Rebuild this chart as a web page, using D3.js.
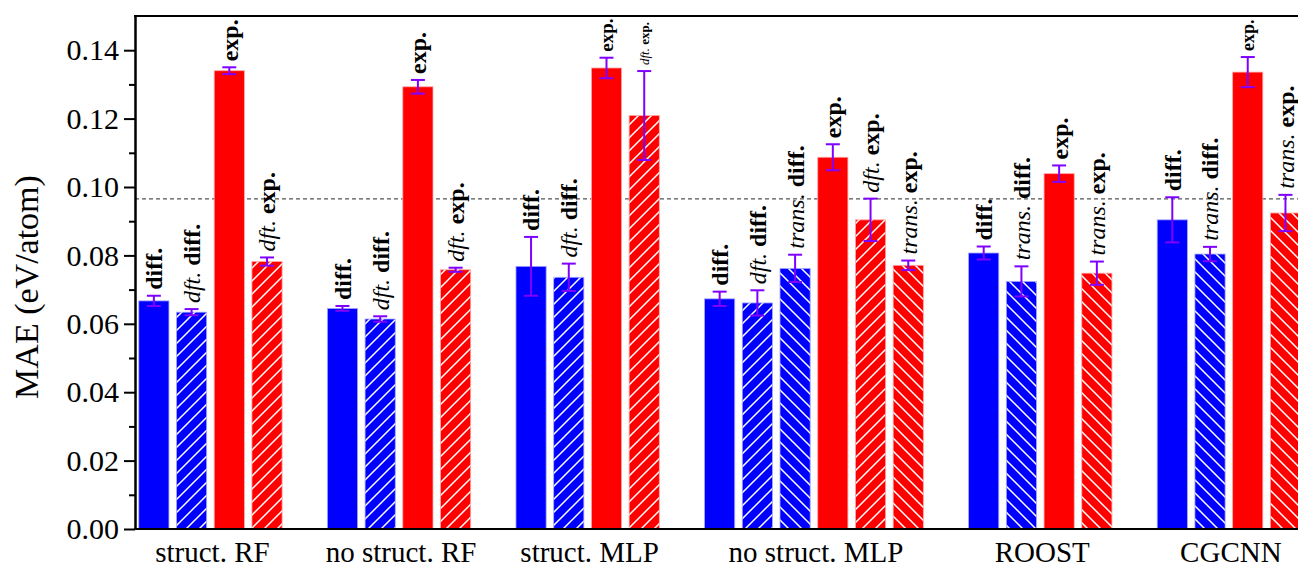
<!DOCTYPE html>
<html lang="en">
<head>
  <meta charset="UTF-8">
  <title>MAE by model</title>
  <script src="https://d3js.org/d3.v7.min.js"></script>
  <style>
    body { margin: 0; background: #fff; }
    svg text { font-family: "Liberation Serif", "Times New Roman", serif; fill: #000; }
    .axis path, .axis line { stroke: #000; stroke-width: 2px; }
  </style>
</head>
<body>
<svg id="chart" width="1298" height="569"></svg>
<script>
  // data
  const models = ["struct. RF", "no struct. RF", "struct. MLP", "no struct. MLP", "ROOST", "CGCNN"];
  const barKinds = [
    ["diff", "dft diff", "exp", "dft exp"],
    ["diff", "dft diff", "exp", "dft exp"],
    ["diff", "dft diff", "exp", "dft exp"],
    ["diff", "dft diff", "trans diff", "exp", "dft exp", "trans exp"],
    ["diff", "trans diff", "exp", "trans exp"],
    ["diff", "trans diff", "exp", "trans exp"]
  ];
  const maeValues = [
    [0.0667, 0.0634, 0.1340, 0.0782],
    [0.0645, 0.0614, 0.1293, 0.0758],
    [0.0768, 0.0736, 0.1348, 0.1209],
    [0.0673, 0.0661, 0.0762, 0.1087, 0.0904, 0.0771],
    [0.0807, 0.0724, 0.1039, 0.0748],
    [0.0904, 0.0804, 0.1336, 0.0924]
  ];
  const maeErrors = [
    [0.0015, 0.0009, 0.0010, 0.0012],
    [0.0007, 0.0008, 0.0020, 0.0006],
    [0.0086, 0.0040, 0.0030, 0.0130],
    [0.0021, 0.0037, 0.0040, 0.0038, 0.0062, 0.0014],
    [0.0019, 0.0044, 0.0024, 0.0034],
    [0.0066, 0.0021, 0.0044, 0.0053]
  ];
  const yTicks = [0, 0.02, 0.04, 0.06, 0.08, 0.10, 0.12, 0.14];
  const yMinorTicks = [0.01, 0.03, 0.05, 0.07, 0.09, 0.11, 0.13];
  const refLine = 0.0965;

  // label text for each bar kind (italic prefix + bold word)
  const kindLabels = {
    "diff": [["", "diff."]],
    "dft diff": [["dft.", "diff."]],
    "trans diff": [["trans.", "diff."]],
    "exp": [["", "exp."]],
    "dft exp": [["dft.", "exp."]],
    "trans exp": [["trans.", "exp."]]
  };
  // some labels were squeezed smaller in the figure
  const smallLabels = { "struct. MLP|exp": 19, "struct. MLP|dft exp": 13, "CGCNN|exp": 18 };

  const svg = d3.select("#chart");
  const margin = { left: 135, top: 16, bottom: 40 };
  const height = +svg.attr("height");

  // flatten bars into slots, one empty slot between groups
  let bars = [];
  let slot = 0;
  models.forEach((m, gi) => {
    barKinds[gi].forEach((k, bi) => {
      bars.push({ model: m, kind: k, value: maeValues[gi][bi], err: maeErrors[gi][bi], slot: slot });
      slot++;
    });
    slot++;
  });
  const nSlots = slot;

  const x = d3.scaleBand()
    .domain(d3.range(nSlots))
    .range([margin.left, margin.left + nSlots * 37.72])
    .paddingInner(0.2)
    .paddingOuter(0.1);

  const y = d3.scaleLinear().domain([0, 0.15]).range([height - margin.bottom, margin.top]);

  // hatch patterns
  const defs = svg.append("defs");
  const hs = 13;
  function makePattern(id, color, dir) {
    const p = defs.append("pattern").attr("id", id)
      .attr("patternUnits", "userSpaceOnUse")
      .attr("width", hs).attr("height", hs);
    p.append("rect").attr("width", hs).attr("height", hs).attr("fill", color);
    const d = dir === "fwd"
      ? `M0,${hs} L${hs},0 M${-hs/2},${hs/2} L${hs/2},${-hs/2} M${hs/2},${1.5*hs} L${1.5*hs},${hs/2}`
      : `M0,0 L${hs},${hs} M${-hs/2},${hs/2} L${hs/2},${1.5*hs} M${hs/2},${-hs/2} L${1.5*hs},${hs/2}`;
    p.append("path").attr("d", d).attr("stroke", "#fff").attr("stroke-width", 1.5);
  }
  makePattern("blue-fwd", "#0000ff", "fwd");
  makePattern("blue-back", "#0000ff", "back");
  makePattern("red-fwd", "#ff0000", "fwd");
  makePattern("red-back", "#ff0000", "back");

  const fills = {
    "diff": "#0000ff",
    "dft diff": "url(#blue-fwd)",
    "trans diff": "url(#blue-back)",
    "exp": "#ff0000",
    "dft exp": "url(#red-fwd)",
    "trans exp": "url(#red-back)"
  };
  const edge = k => k.indexOf("diff") >= 0 ? "#a8a8ff" : "#ffa8a8";

  // reference line
  svg.append("line")
    .attr("x1", margin.left).attr("x2", 1298)
    .attr("y1", y(refLine)).attr("y2", y(refLine))
    .attr("stroke", "#555").attr("stroke-width", 1.2)
    .attr("stroke-dasharray", "4,3");

  // bars
  svg.selectAll("rect.bar").data(bars).join("rect")
    .attr("class", "bar")
    .attr("x", d => x(d.slot))
    .attr("width", x.bandwidth())
    .attr("y", d => y(d.value))
    .attr("height", d => y(0) - y(d.value))
    .attr("fill", d => fills[d.kind])
    .attr("stroke", d => edge(d.kind))
    .attr("stroke-width", 0.8);

  // error bars
  const eb = svg.selectAll("g.err").data(bars).join("g").attr("class", "err")
    .attr("stroke", "#8000ff").attr("stroke-width", 2);
  const cx = d => x(d.slot) + x.bandwidth() / 2;
  eb.append("line")
    .attr("x1", cx).attr("x2", cx)
    .attr("y1", d => y(d.value - d.err)).attr("y2", d => y(d.value + d.err));
  eb.append("line")
    .attr("x1", d => cx(d) - 7).attr("x2", d => cx(d) + 7)
    .attr("y1", d => y(d.value - d.err)).attr("y2", d => y(d.value - d.err));
  eb.append("line")
    .attr("x1", d => cx(d) - 7).attr("x2", d => cx(d) + 7)
    .attr("y1", d => y(d.value + d.err)).attr("y2", d => y(d.value + d.err));

  // vertical labels above bars
  bars.forEach(d => {
    const size = smallLabels[d.model + "|" + d.kind] || 24;
    const t = svg.append("text")
      .attr("transform", `translate(${cx(d)},${y(d.value + d.err) - 6}) rotate(-90)`)
      .attr("dy", "0.35em")
      .style("font-size", size + "px");
    kindLabels[d.kind].forEach(([pre, word]) => {
      if (pre) t.append("tspan").style("font-style", "italic").text(pre + " ");
      t.append("tspan").style("font-weight", "bold").text(word);
    });
  });

  // axes
  svg.append("g").attr("class", "axis")
    .attr("transform", `translate(${margin.left},0)`)
    .call(d3.axisLeft(y).tickValues(yTicks).tickSize(11).tickSizeOuter(0).tickPadding(5)
      .tickFormat(d3.format(".2f")))
    .call(g => g.selectAll("text").style("font-size", "30px"));
  svg.append("g").attr("class", "axis")
    .attr("transform", `translate(${margin.left},0)`)
    .call(d3.axisLeft(y).tickValues(yMinorTicks).tickSize(6).tickSizeOuter(0).tickFormat(""));

  svg.append("line").attr("x1", margin.left - 1).attr("x2", 1298)
    .attr("y1", y(0)).attr("y2", y(0)).attr("stroke", "#000").attr("stroke-width", 2);
  svg.append("line").attr("x1", margin.left - 1).attr("x2", 1298)
    .attr("y1", y(0.15)).attr("y2", y(0.15)).attr("stroke", "#000").attr("stroke-width", 2);

  // group labels
  models.forEach(m => {
    const gb = bars.filter(b => b.model === m);
    const c = (cx(gb[0]) + cx(gb[gb.length - 1])) / 2;
    svg.append("text")
      .attr("x", c + 2).attr("y", y(0) + 33)
      .attr("text-anchor", "middle")
      .style("font-size", "29px")
      .text(m);
  });

  svg.append("text")
    .attr("transform", `translate(38,287) rotate(-90)`)
    .attr("text-anchor", "middle")
    .style("font-size", "34px")
    .text("MAE (eV/atom)");
</script>
</body>
</html>
